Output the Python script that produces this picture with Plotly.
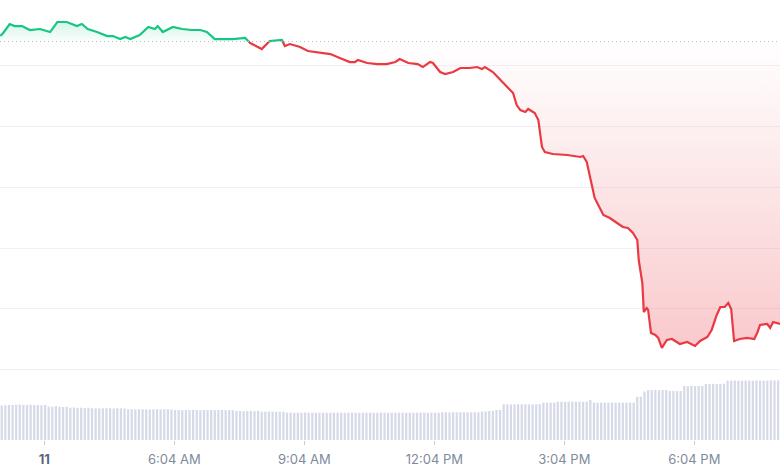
import plotly.graph_objects as go

# ---- price series (minutes since midnight, price) ----
times = [123,127,136,143,153,164,178,192,202,215,222,229,236,244,257,271,279,289,296,303,
         316,328,337,341,348,362,375,388,400,409,420,430,445,462,469,485,496,513,517,524,
         538,549,566,580,593,607,614,618,631,645,658,670,676,688,701,708,718,722,732,739,
         750,760,773,783,790,794,805,819,833,838,843,850,854,863,868,873,877,888,908,926,
         930,935,942,946,958,967,977,985,992,999,1005,1007,1012,1014,1018,1020,1024,1030,1034,1039,
         1046,1053,1064,1074,1085,1092,1102,1108,1115,1120,1126,1131,1135,1139,1147,1157,1167,1171,1175,1185,
         1189,1193,1203]
prices = [15.475,15.525,15.672,15.639,15.639,15.574,15.590,15.541,15.705,15.705,15.672,15.639,15.672,15.590,15.541,15.475,15.475,15.426,15.459,15.426,
          15.492,15.623,15.590,15.639,15.541,15.623,15.590,15.574,15.574,15.541,15.426,15.426,15.426,15.443,15.361,15.262,15.393,15.410,15.311,15.344,
          15.295,15.230,15.197,15.180,15.115,15.049,15.049,15.082,15.033,15.016,15.016,15.049,15.098,15.033,15.016,14.967,15.049,15.033,14.885,14.852,
          14.885,14.951,14.951,14.967,14.934,14.967,14.885,14.705,14.541,14.344,14.262,14.230,14.279,14.213,14.098,13.656,13.574,13.541,13.525,13.492,
          13.508,13.410,13.000,12.820,12.541,12.492,12.410,12.344,12.328,12.246,12.131,11.803,11.426,10.951,11.016,10.984,10.607,10.574,10.525,10.361,
          10.492,10.508,10.426,10.459,10.393,10.475,10.541,10.656,10.902,11.033,11.033,11.098,11.000,10.475,10.508,10.525,10.508,10.607,10.738,10.754,
          10.689,10.787,10.754]
open_price = 15.385

# ---- volume series (5-minute bars) ----
vol_start, vol_step = 125, 5
volumes = [3.45,3.47,3.50,
           3.50,3.52,3.55,3.50,3.50,3.52,3.50,3.50,3.48,3.50,
           3.35,3.33,3.38,3.33,3.30,3.33,
           3.23,3.25,3.22,3.23,3.20,3.23,
           3.17,3.17,3.15,3.18,3.17,3.17,3.15,3.17,3.17,3.15,
           3.07,3.07,3.05,3.07,3.08,3.07,3.05,3.07,3.07,3.05,3.07,3.07,3.05,
           3.00,3.00,2.98,3.00,3.00,3.02,3.00,2.98,3.00,3.00,3.00,2.98,3.00,3.00,2.98,3.00,2.98,
           2.90,2.90,2.88,2.90,2.90,2.88,2.90,
           2.83,2.83,2.85,2.83,2.83,2.82,2.83,
           2.73,2.73,2.72,2.73,2.73,2.74,2.73,2.72,2.73,2.73,2.73,2.72,2.73,2.74,2.73,2.73,2.72,2.73,2.73,2.73,
           2.72,2.73,2.73,2.74,2.73,2.72,2.73,2.73,2.73,2.72,2.73,2.73,2.74,2.73,2.73,2.72,2.73,2.73,2.73,2.72,
           2.73,2.73,2.73,
           2.77,2.77,2.76,2.77,2.77,2.78,2.77,2.77,2.76,2.77,2.77,
           2.85,2.85,2.90,2.90,3.00,3.00,
           3.57,3.57,3.56,3.57,3.58,3.57,3.57,3.56,3.57,3.57,3.58,
           3.73,3.73,3.74,3.73,
           3.83,3.83,3.82,3.83,3.84,3.83,3.83,3.82,3.83,
           4.00,
           3.73,3.73,3.72,3.73,3.73,3.74,3.73,3.73,3.72,3.73,3.73,3.73,
           4.33,4.33,4.85,
           5.00,5.00,5.00,4.98,5.00,5.00,
           4.90,4.90,4.88,4.90,
           5.40,5.40,5.42,5.40,5.40,5.42,
           5.60,5.60,5.62,5.60,5.60,5.62,
           5.93,5.93,5.95,5.93,5.93,5.95,5.93,5.93,5.95,5.93,5.95,5.95,5.96,5.95,5.96]
vol_times = [vol_start + vol_step * i for i in range(len(volumes))]

tick_vals = [184, 364, 544, 724, 904, 1084]
tick_text = ["<b><span style='color:#58667e'>11</span></b>", "6:04 AM", "9:04 AM", "12:04 PM", "3:04 PM", "6:04 PM"]
grid_vals = [10, 11, 12, 13, 14, 15]

GREEN = "#16c784"
RED = "#ea3943"

# insert baseline crossings so the two colours meet exactly
xs, ys = [times[0]], [prices[0]]
for i in range(1, len(times)):
    x0, y0, x1, y1 = times[i-1], prices[i-1], times[i], prices[i]
    if (y0 - open_price) * (y1 - open_price) < 0:
        xc = x0 + (open_price - y0) * (x1 - x0) / (y1 - y0)
        xs.append(xc); ys.append(open_price)
    xs.append(x1); ys.append(y1)

up_line = [y if y >= open_price else None for y in ys]
dn_line = [y if y <= open_price else None for y in ys]
up_fill = [max(y, open_price) for y in ys]
dn_fill = [min(y, open_price) for y in ys]
base = [open_price] * len(xs)

fig = go.Figure()
fig.add_trace(go.Scatter(x=xs, y=base, mode="lines", line=dict(width=0), hoverinfo="skip", showlegend=False))
fig.add_trace(go.Scatter(x=xs, y=up_fill, mode="lines", line=dict(width=0), fill="tonexty",
                         fillgradient=dict(type="vertical", start=open_price, stop=max(prices),
                                           colorscale=[[0, "rgba(22,199,132,0.02)"], [1, "rgba(22,199,132,0.18)"]]),
                         hoverinfo="skip", showlegend=False))
fig.add_trace(go.Scatter(x=xs, y=base, mode="lines", line=dict(width=0), hoverinfo="skip", showlegend=False))
fig.add_trace(go.Scatter(x=xs, y=dn_fill, mode="lines", line=dict(width=0), fill="tonexty",
                         fillgradient=dict(type="vertical", start=min(prices), stop=open_price,
                                           colorscale=[[0, "rgba(234,57,67,0.27)"], [1, "rgba(234,57,67,0)"]]),
                         hoverinfo="skip", showlegend=False))
fig.add_trace(go.Scatter(x=xs, y=up_line, mode="lines", line=dict(color=GREEN, width=2.2), connectgaps=False, showlegend=False))
fig.add_trace(go.Scatter(x=xs, y=dn_line, mode="lines", line=dict(color=RED, width=2.2), connectgaps=False, showlegend=False))
fig.add_trace(go.Bar(x=vol_times, y=volumes, yaxis="y2", marker=dict(color="#d6dae7", line=dict(width=0)),
                     showlegend=False))

fig.add_shape(type="line", xref="paper", x0=0, x1=1, yref="y", y0=open_price, y1=open_price,
              line=dict(color="#b9bec9", width=1, dash="1px,3px"))

fig.update_layout(
    width=780, height=470,
    margin=dict(l=0, r=0, t=0, b=30),
    paper_bgcolor="white", plot_bgcolor="white",
    bargap=0.38,
    xaxis=dict(range=[122.6, 1202.6], tickvals=tick_vals, ticktext=tick_text, showgrid=False,
               zeroline=False, showline=False, ticks="outside", ticklen=4, tickcolor="#c8ccd4",
               ticklabelstandoff=3,
               tickfont=dict(family="Inter", size=13, color="#808a9d")),
    yaxis=dict(range=[8.852, 16.066], tickvals=grid_vals, showticklabels=False, showgrid=True,
               gridcolor="#eff2f5", gridwidth=1, zeroline=False, showline=False),
    yaxis2=dict(range=[0, 44], overlaying="y", showgrid=False, showticklabels=False, zeroline=False,
                showline=False),
)

fig.write_html("out.html", config={"displayModeBar": False},
               post_script="document.body.style.margin='0';document.body.style.overflow='hidden';")
